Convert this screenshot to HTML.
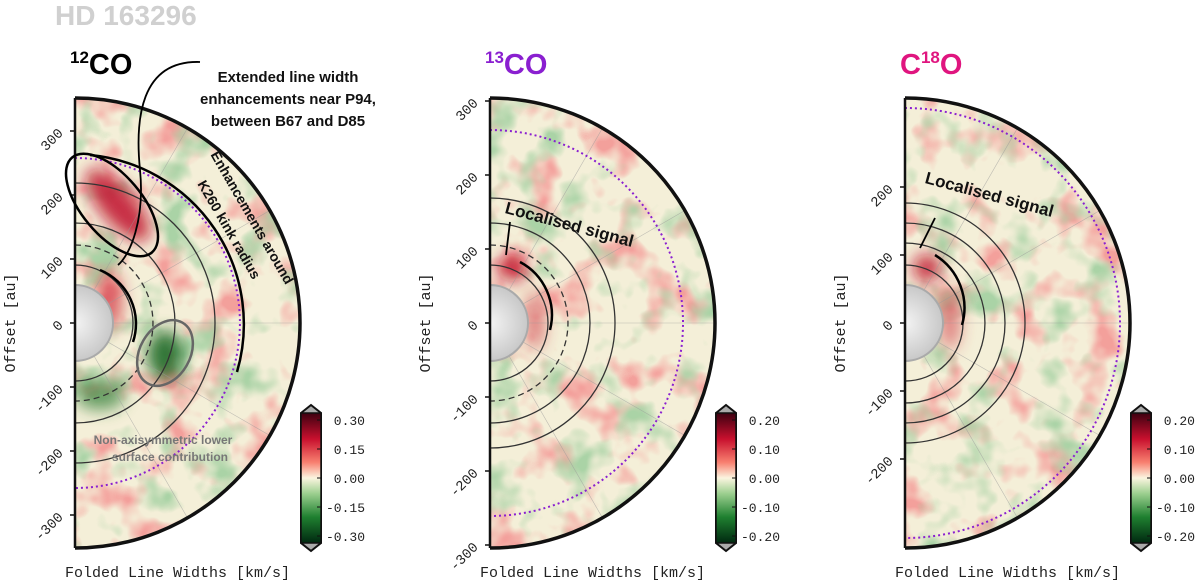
<!DOCTYPE html>
<html><head><meta charset="utf-8"><style>
body{margin:0;background:#fff;width:1200px;height:584px;overflow:hidden;font-family:"Liberation Sans",sans-serif}
svg{display:block}
.mono{font-family:"Liberation Mono",monospace}
</style></head><body>
<svg id="c" width="1200" height="584">
<defs>
<linearGradient id="cb" x1="0" y1="0" x2="0" y2="1">
<stop offset="0" stop-color="#3d0010"/><stop offset="0.2" stop-color="#c8102e"/><stop offset="0.38" stop-color="#f88070"/><stop offset="0.5" stop-color="#fbf5e0"/><stop offset="0.62" stop-color="#9ccf8f"/><stop offset="0.8" stop-color="#1f8030"/><stop offset="1" stop-color="#002810"/>
</linearGradient>
<filter id="nz1" x="0" y="0" width="1" height="1"><feTurbulence type="fractalNoise" baseFrequency="0.025" numOctaves="3" seed="3"/><feColorMatrix type="matrix" values="0 0 0 0 0.9  0 0 0 0 0.35  0 0 0 0 0.33  3.5 0 0 0 -1.75"/></filter>
<filter id="nz2" x="0" y="0" width="1" height="1"><feTurbulence type="fractalNoise" baseFrequency="0.025" numOctaves="3" seed="9"/><feColorMatrix type="matrix" values="0 0 0 0 0.4  0 0 0 0 0.65  0 0 0 0 0.38  0 3.5 0 0 -1.8"/></filter>
<filter id="blur" x="-100%" y="-100%" width="300%" height="300%"><feGaussianBlur stdDeviation="8"/></filter>
<radialGradient id="core"><stop offset="0" stop-color="#f4f4f4"/><stop offset="1" stop-color="#c8c8c8"/></radialGradient>
</defs>
<text x="55" y="25" font-size="28" font-weight="bold" fill="#d0d0d0">HD 163296</text>
</svg>
<script>
const panelX=[75,490,905];
const pxPerAu=[0.64,0.74,0.68];
const tickAu=[[300,200,100,0,-100,-200,-300],[300,200,100,0,-100,-200,-300],[200,100,0,-100,-200]];
const cbTicks=[["0.30","0.15","0.00","-0.15","-0.30"],["0.20","0.10","0.00","-0.10","-0.20"],["0.20","0.10","0.00","-0.10","-0.20"]];
const ringsPx=[[58,78,100,140],[58,78,100,125],[58,80,100,120]];
const dashedPx=[[78],[78,105],[78]];
const purplePx=[165,193,215];
const cy=323,R=225,NS="http://www.w3.org/2000/svg",svg=document.getElementById('c');
function el(t,a,p){const e=document.createElementNS(NS,t);for(const k in a)e.setAttribute(k,a[k]);(p||svg).appendChild(e);return e;}
const colors=["#000","#8a1fd0","#e0157f"];
panelX.forEach((x0,i)=>{
 const g=el('g',{});
 
 
 const cp=el('clipPath',{id:'cl'+i});
 el('path',{d:`M${x0},${cy-R} A${R},${R} 0 0 1 ${x0},${cy+R} Z`},cp);
 const d=el('g',{'clip-path':`url(#cl${i})`},g);
 
 
 el('rect',{x:x0,y:cy-R,width:R,height:2*R,fill:'#f4efd8'},d);
 el('rect',{x:x0,y:cy-R,width:R,height:2*R,filter:'url(#nz1)'},d);
 el('rect',{x:x0,y:cy-R,width:R,height:2*R,filter:'url(#nz2)'},d);
 if(i==0){
  el('ellipse',{cx:118,cy:205,rx:18,ry:45,transform:'rotate(-40 118 205)',fill:'#c0102a',opacity:0.85,filter:'url(#blur)'},d);
  el('ellipse',{cx:165,cy:355,rx:18,ry:25,fill:'#1a6a25',opacity:0.9,filter:'url(#blur)'},d);
  el('ellipse',{cx:100,cy:395,rx:25,ry:15,fill:'#2a7a30',opacity:0.7,filter:'url(#blur)'},d);
  el('ellipse',{cx:110,cy:300,rx:12,ry:30,fill:'#d02030',opacity:0.7,filter:'url(#blur)'},d);
 } else {
  el('ellipse',{cx:x0+22,cy:268,rx:14,ry:14,fill:'#c0102a',opacity:0.85,filter:'url(#blur)'},d);
  el('ellipse',{cx:x0+45,cy:320,rx:10,ry:30,fill:'#d03040',opacity:0.6,filter:'url(#blur)'},d);
 }
 for(let a=-60;a<=60;a+=30){const r=a*Math.PI/180;el('line',{x1:x0,y1:cy,x2:x0+R*Math.cos(r),y2:cy+R*Math.sin(r),stroke:'#999','stroke-width':0.6,opacity:0.6},d);}
 ringsPx[i].forEach(r=>{const ds=dashedPx[i].includes(r);el('path',{d:`M${x0},${cy-r} A${r},${r} 0 0 1 ${x0},${cy+r}`,fill:'none',stroke:'#333','stroke-width':1.3,'stroke-dasharray':ds?'6,4':'none'},d);});
 el('path',{d:`M${x0},${cy-purplePx[i]} A${purplePx[i]},${purplePx[i]} 0 0 1 ${x0},${cy+purplePx[i]}`,fill:'none',stroke:'#8a1fd0','stroke-width':2,'stroke-dasharray':'2,3'},d);
 el('circle',{cx:x0,cy:cy,r:38,fill:'url(#core)',stroke:'#aaa','stroke-width':2},d);
 const out=el('path',{d:`M${x0},${cy-R} A${R},${R} 0 0 1 ${x0},${cy+R}`,fill:'none',stroke:'#111','stroke-width':3.5},g);
 
 
 const ax=el('line',{x1:x0,y1:cy-R,x2:x0,y2:cy+R,stroke:'#111','stroke-width':2.5},g);
 
 
 tickAu[i].forEach(v=>{const y=cy-v*pxPerAu[i];
  el('line',{x1:x0-5,y1:y,x2:x0,y2:y,stroke:'#111','stroke-width':1.5},g);
  const t=el('text',{x:x0-14,y:y+4,'font-size':14,'text-anchor':'end',class:'mono',fill:'#222',transform:`rotate(-45 ${x0-14} ${y})`},g);
  t.textContent=v;
  
  });
 const xl=el('text',{x:x0-10,y:577,'font-size':15,class:'mono',fill:'#222'},g);
 xl.textContent='Folded Line Widths [km/s]';
 
 
 const yl=el('text',{x:0,y:0,'font-size':15,class:'mono',fill:'#222','text-anchor':'middle',transform:`translate(${x0-60},${cy}) rotate(-90)`},g);
 yl.textContent='Offset [au]';
 
 
 const tt=el('text',{x:x0-5,y:74,'font-size':29,'font-weight':'bold',fill:colors[i]},g);
 
 
 if(i==0)tt.innerHTML=`<tspan font-size="17" dy="-11">12</tspan><tspan dy="11">CO</tspan>`;
 else if(i==1)tt.innerHTML=`<tspan font-size="17" dy="-11">13</tspan><tspan dy="11">CO</tspan>`;
 else tt.innerHTML=`C<tspan font-size="17" dy="-11">18</tspan><tspan dy="11">O</tspan>`;
 const bx=x0+226,by=413,bh=130,bw=20;
 const cb=el('g',{},g);
 
 
 el('path',{d:`M${bx},${by} L${bx+bw/2},${by-8} L${bx+bw},${by} L${bx+bw},${by+bh} L${bx+bw/2},${by+bh+8} L${bx},${by+bh} Z`,fill:'#aaa',stroke:'#111','stroke-width':2},cb);
 el('rect',{x:bx,y:by,width:bw,height:bh,fill:'url(#cb)',stroke:'#111','stroke-width':1.5},cb);
 cbTicks[i].forEach((s,k)=>{const y=by+7+k*(bh-14)/4;
  el('line',{x1:bx+bw-4,y1:y,x2:bx+bw,y2:y,stroke:'#111'},cb);
  const t=el('text',{x:bx+bw+44,y:y+5,'font-size':13,class:'mono','text-anchor':'end',fill:'#222'},cb);
  t.textContent=s;
  
  });
});
const an=el('g',{fill:'none',stroke:'#000','stroke-width':2.5});


el('ellipse',{cx:112,cy:205,rx:62,ry:30,transform:'rotate(50 112 205)'},an);
el('path',{d:'M90,155 A170,170 0 0 1 237,372'},an);
el('path',{d:'M100,270 A58,58 0 0 1 133,342'},an);
el('path',{d:'M200,62 C140,60 135,120 140,170 C145,220 130,255 118,265','stroke-width':1.8},an);
el('ellipse',{cx:165,cy:353,rx:25,ry:35,transform:'rotate(30 165 353)',stroke:'#666'},an);
el('path',{d:'M520,262 A60,60 0 0 1 550,330'},an);
el('path',{d:'M935,255 A62,62 0 0 1 962,325'},an);
el('path',{d:'M510,222 L506,255','stroke-width':1.8},an);
el('path',{d:'M935,218 L920,248','stroke-width':1.8},an);
function txt(x,y,s,sz,fill,rot,name){const t=el('text',{x:x,y:y,'font-size':sz,'font-weight':'bold',fill:fill,'text-anchor':'middle',transform:rot?`rotate(${rot} ${x} ${y})`:''});t.textContent=s;}
txt(288,82,'Extended line width',15,'#111',0,'annotation-text');
txt(288,104,'enhancements near P94,',15,'#111',0,'annotation-text');
txt(288,126,'between B67 and D85',15,'#111',0,'annotation-text');
txt(248,220,'Enhancements around',14,'#111',60,'annotation-text');
txt(225,232,'K260 kink radius',14,'#111',60,'annotation-text');
txt(163,444,'Non-axisymmetric lower',12,'#777',0,'annotation-text');
txt(170,461,'surface contribution',12,'#777',0,'annotation-text');
txt(568,230,'Localised signal',17,'#111',15,'annotation-text');
txt(988,200,'Localised signal',17,'#111',15,'annotation-text');
</script>
</body></html>
